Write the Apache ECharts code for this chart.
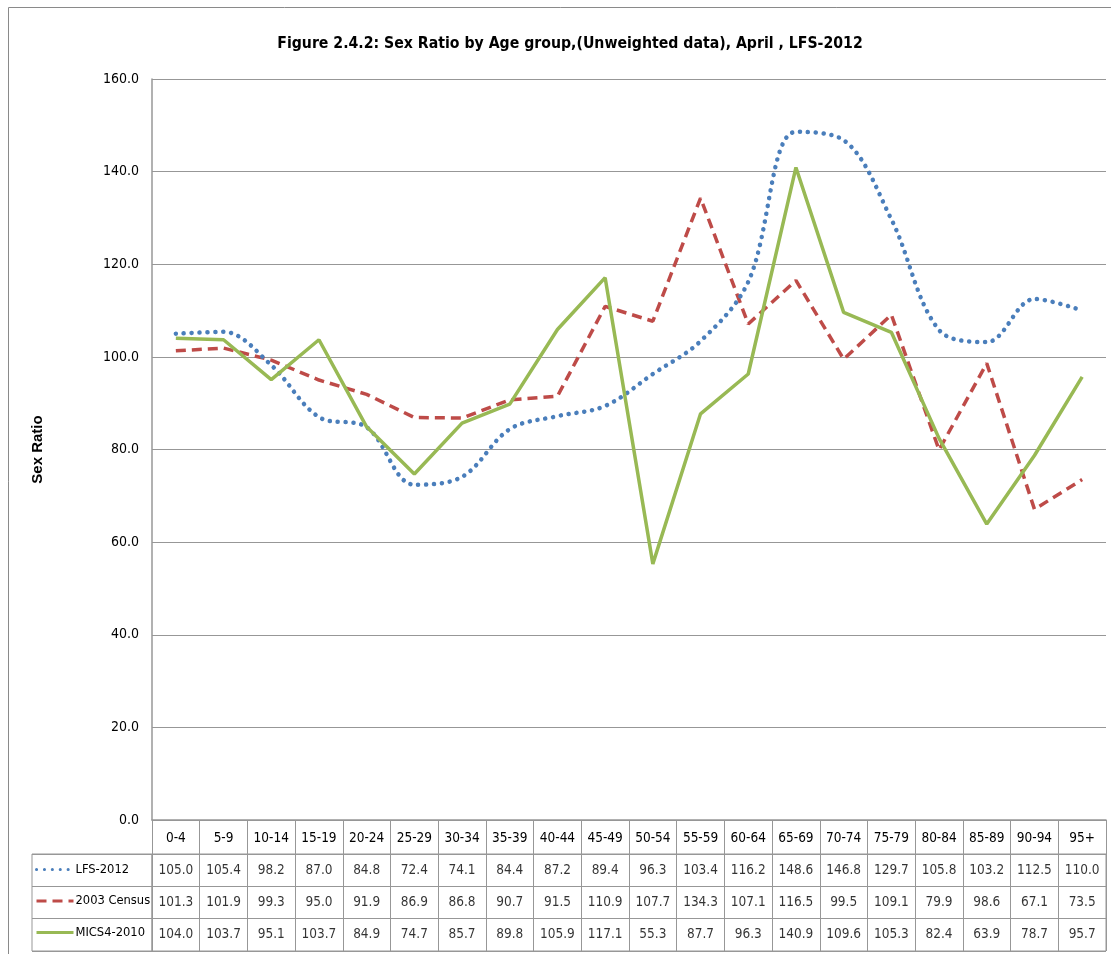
<!DOCTYPE html>
<html>
<head>
<meta charset="utf-8">
<script src="https://cdn.jsdelivr.net/npm/echarts@6/dist/echarts.min.js"></script>
<style>html,body{margin:0;padding:0;background:#fff}#c{width:1111px;height:954px}</style>
</head>
<body>
<div id="c"></div>
<script>
const ageGroups = ['0-4','5-9','10-14','15-19','20-24','25-29','30-34','35-39','40-44','45-49','50-54','55-59','60-64','65-69','70-74','75-79','80-84','85-89','90-94','95+'];
const lfs2012 = [105.0,105.4,98.2,87.0,84.8,72.4,74.1,84.4,87.2,89.4,96.3,103.4,116.2,148.6,146.8,129.7,105.8,103.2,112.5,110.0];
const census2003 = [101.3,101.9,99.3,95.0,91.9,86.9,86.8,90.7,91.5,110.9,107.7,134.3,107.1,116.5,99.5,109.1,79.9,98.6,67.1,73.5];
const mics2010 = [104.0,103.7,95.1,103.7,84.9,74.7,85.7,89.8,105.9,117.1,55.3,87.7,96.3,140.9,109.6,105.3,82.4,63.9,78.7,95.7];
const seriesNames = ['LFS-2012','2003 Census','MICS4-2010'];
const yTicks = {min: 0, max: 160, interval: 20};

const FONT = "'Liberation Sans Narrow','DejaVu Sans Condensed',sans-serif";
const GRID = '#979797';
const colors = ['#4a7ebb','#be4b48','#98b954'];
const rowsData = [lfs2012, census2003, mics2010];
const FS = 13.5;

const chart = echarts.init(document.getElementById('c'), null, {renderer:'canvas'});

const tableSeries = rowsData.map((arr, r) => ({
  type: 'scatter',
  name: 'tbl' + r,
  xAxisIndex: 1, yAxisIndex: 1,
  symbolSize: 1,
  silent: true,
  itemStyle: {color: 'rgba(0,0,0,0)'},
  label: {show: true, position: 'inside', color: '#000', fontFamily: FONT, fontSize: FS,
    formatter: p => p.value[2].toFixed(1)},
  data: arr.map((v, i) => [ageGroups[i], seriesNames[r], v])
}));

chart.setOption({
  animation: false,
  backgroundColor: '#fff',
  title: {
    text: 'Figure 2.4.2: Sex Ratio by Age group,(Unweighted data), April , LFS-2012',
    left: 565, top: 31, textAlign: 'center',
    textStyle: {fontFamily: FONT, fontWeight: 'bold', fontSize: 15.7, color: '#000'}
  },
  graphic: [{
    type: 'rect', shape: {x: 8.5, y: 7.5, width: 1200, height: 1000},
    style: {fill: 'none', stroke: '#8a8a8a', lineWidth: 1}, silent: true, z: -1
  }],
  legend: {
    data: seriesNames,
    orient: 'vertical', left: 35, top: 863, padding: 0,
    itemWidth: 37, itemHeight: 14, itemGap: 18.5,
    itemStyle: {opacity: 0},
    lineStyle: {width: 3},
    textStyle: {fontFamily: FONT, fontSize: 12.8, color: '#000', padding: [0,0,0,-3]},
    selectedMode: false
  },
  grid: [
    {left: 152, top: 79, width: 954, height: 741},
    {left: 152, top: 854, width: 954, height: 97, show: true, borderColor: GRID, borderWidth: 1},
    {left: 32, top: 854, width: 120, height: 97, show: true, borderColor: GRID, borderWidth: 1}
  ],
  xAxis: [
    {type: 'category', gridIndex: 0, data: ageGroups, boundaryGap: true,
     axisLine: {lineStyle: {color: GRID, width: 1.5}},
     axisTick: {show: true, length: 34, lineStyle: {color: GRID}},
     axisLabel: {margin: 11, color: '#000', fontFamily: FONT, fontSize: FS, interval: 0},
     splitLine: {show: false}},
    {type: 'category', gridIndex: 1, data: ageGroups, boundaryGap: true,
     axisLine: {show: false}, axisTick: {show: false}, axisLabel: {show: false},
     splitLine: {show: true, interval: 0, lineStyle: {color: GRID}}},
    {type: 'value', gridIndex: 2, show: false}
  ],
  yAxis: [
    {type: 'value', gridIndex: 0, min: yTicks.min, max: yTicks.max, interval: yTicks.interval,
     name: 'Sex Ratio', nameLocation: 'middle', nameRotate: 90, nameGap: 107,
     nameTextStyle: {fontFamily: "'Liberation Sans','DejaVu Sans',sans-serif", fontWeight: 'bold', fontSize: 15, color: '#000'},
     axisLine: {show: true, lineStyle: {color: GRID, width: 1.5}},
     axisTick: {show: false},
     axisLabel: {margin: 13, color: '#000', fontFamily: FONT, fontSize: 14, formatter: v => v.toFixed(1)},
     splitLine: {show: true, lineStyle: {color: GRID, width: 1.2}}},
    {type: 'category', gridIndex: 1, data: seriesNames, inverse: true, boundaryGap: true,
     axisLine: {show: false}, axisTick: {show: false}, axisLabel: {show: false},
     splitLine: {show: true, interval: 0, lineStyle: {color: GRID}}},
    {type: 'category', gridIndex: 2, data: seriesNames, inverse: true, boundaryGap: true,
     axisLine: {show: false}, axisTick: {show: false}, axisLabel: {show: false},
     splitLine: {show: true, interval: 0, lineStyle: {color: GRID}}}
  ],
  series: [
    {type: 'line', name: seriesNames[0], data: lfs2012, smooth: 0.35, symbol: 'none',
     lineStyle: {color: colors[0], width: 4.5, type: [0.1, 7.8], cap: 'round'},
     itemStyle: {color: colors[0]}, z: 3},
    {type: 'line', name: seriesNames[1], data: census2003, smooth: false, symbol: 'none',
     lineStyle: {color: colors[1], width: 3.5, type: [10, 6]},
     itemStyle: {color: colors[1]}, z: 2},
    {type: 'line', name: seriesNames[2], data: mics2010, smooth: false, symbol: 'none',
     lineStyle: {color: colors[2], width: 3.5},
     itemStyle: {color: colors[2]}, z: 4},
    ...tableSeries
  ]
});
</script>
</body>
</html>
